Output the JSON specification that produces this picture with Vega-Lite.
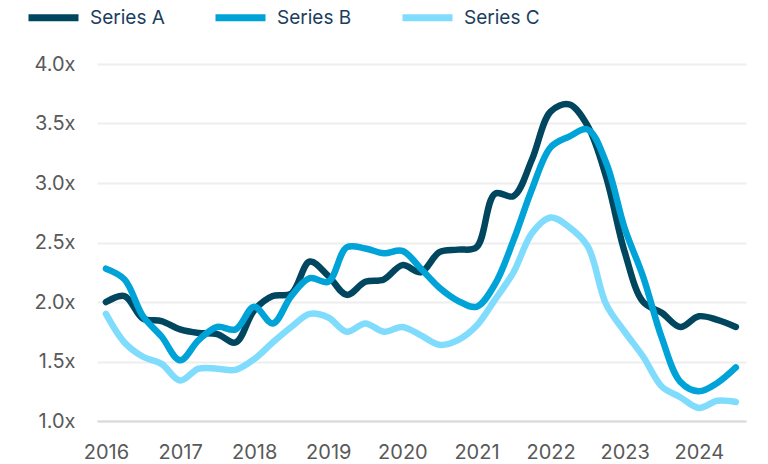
{
  "$schema": "https://vega.github.io/schema/vega-lite/v6.json",
  "width": 649,
  "height": 357,
  "autosize": {"type": "none"},
  "padding": {"left": 97, "top": 64, "right": 22, "bottom": 43},
  "background": "white",
  "config": {
    "view": {"stroke": null},
    "font": "Inter"
  },
  "data": {
    "values": [
      {"t": 2016.00, "Series A": 2.00, "Series B": 2.28, "Series C": 1.90},
      {"t": 2016.25, "Series A": 2.05, "Series B": 2.19, "Series C": 1.66},
      {"t": 2016.50, "Series A": 1.86, "Series B": 1.88, "Series C": 1.54},
      {"t": 2016.75, "Series A": 1.84, "Series B": 1.71, "Series C": 1.48},
      {"t": 2017.00, "Series A": 1.77, "Series B": 1.51, "Series C": 1.34},
      {"t": 2017.25, "Series A": 1.74, "Series B": 1.68, "Series C": 1.44},
      {"t": 2017.50, "Series A": 1.73, "Series B": 1.79, "Series C": 1.44},
      {"t": 2017.75, "Series A": 1.66, "Series B": 1.77, "Series C": 1.43},
      {"t": 2018.00, "Series A": 1.93, "Series B": 1.96, "Series C": 1.52},
      {"t": 2018.25, "Series A": 2.05, "Series B": 1.82, "Series C": 1.66},
      {"t": 2018.50, "Series A": 2.07, "Series B": 2.05, "Series C": 1.79},
      {"t": 2018.75, "Series A": 2.34, "Series B": 2.20, "Series C": 1.90},
      {"t": 2019.00, "Series A": 2.22, "Series B": 2.17, "Series C": 1.87},
      {"t": 2019.25, "Series A": 2.06, "Series B": 2.46, "Series C": 1.75},
      {"t": 2019.50, "Series A": 2.17, "Series B": 2.45, "Series C": 1.82},
      {"t": 2019.75, "Series A": 2.19, "Series B": 2.41, "Series C": 1.75},
      {"t": 2020.00, "Series A": 2.31, "Series B": 2.43, "Series C": 1.79},
      {"t": 2020.25, "Series A": 2.25, "Series B": 2.28, "Series C": 1.72},
      {"t": 2020.50, "Series A": 2.42, "Series B": 2.12, "Series C": 1.64},
      {"t": 2020.75, "Series A": 2.44, "Series B": 2.01, "Series C": 1.68},
      {"t": 2021.00, "Series A": 2.46, "Series B": 1.96, "Series C": 1.80},
      {"t": 2021.25, "Series A": 2.91, "Series B": 2.15, "Series C": 2.02},
      {"t": 2021.50, "Series A": 2.89, "Series B": 2.52, "Series C": 2.25},
      {"t": 2021.75, "Series A": 3.20, "Series B": 2.95, "Series C": 2.58},
      {"t": 2022.00, "Series A": 3.60, "Series B": 3.30, "Series C": 2.71},
      {"t": 2022.25, "Series A": 3.66, "Series B": 3.39, "Series C": 2.63},
      {"t": 2022.50, "Series A": 3.48, "Series B": 3.45, "Series C": 2.47},
      {"t": 2022.75, "Series A": 3.05, "Series B": 3.17, "Series C": 1.98},
      {"t": 2023.00, "Series A": 2.42, "Series B": 2.62, "Series C": 1.75},
      {"t": 2023.25, "Series A": 2.00, "Series B": 2.21, "Series C": 1.54},
      {"t": 2023.50, "Series A": 1.91, "Series B": 1.70, "Series C": 1.29},
      {"t": 2023.75, "Series A": 1.79, "Series B": 1.33, "Series C": 1.20},
      {"t": 2024.00, "Series A": 1.88, "Series B": 1.25, "Series C": 1.11},
      {"t": 2024.25, "Series A": 1.85, "Series B": 1.32, "Series C": 1.17},
      {"t": 2024.50, "Series A": 1.79, "Series B": 1.45, "Series C": 1.16}
    ]
  },
  "transform": [
    {"fold": ["Series A", "Series B", "Series C"], "as": ["series", "value"]}
  ],
  "mark": {"type": "line", "interpolate": "catmull-rom", "strokeWidth": 6.5, "strokeCap": "round", "strokeJoin": "round", "clip": false},
  "encoding": {
    "x": {
      "field": "t",
      "type": "quantitative",
      "scale": {"domain": [2015.879, 2024.637], "nice": false, "zero": false},
      "axis": {
        "title": null,
        "values": [2016, 2017, 2018, 2019, 2020, 2021, 2022, 2023, 2024],
        "format": "d",
        "grid": false,
        "ticks": false,
        "domain": true,
        "domainColor": "#d9d9d9",
        "domainWidth": 2,
        "labelFont": "Inter",
        "labelFontSize": 20,
        "labelColor": "#595959",
        "labelPadding": 21,
        "labelFlush": false
      }
    },
    "y": {
      "field": "value",
      "type": "quantitative",
      "scale": {"domain": [1, 4], "nice": false, "zero": false},
      "axis": {
        "title": null,
        "values": [1, 1.5, 2, 2.5, 3, 3.5, 4],
        "labelExpr": "format(datum.value, '.1f') + 'x'",
        "grid": true,
        "gridColor": "#eeeeee",
        "gridWidth": 2,
        "ticks": false,
        "domain": false,
        "labelFont": "Inter",
        "labelFontSize": 20,
        "labelColor": "#595959",
        "labelPadding": 22
      }
    },
    "color": {
      "field": "series",
      "type": "nominal",
      "scale": {
        "domain": ["Series A", "Series B", "Series C"],
        "range": ["#00465F", "#00A3D7", "#80DCFD"]
      },
      "legend": {
        "title": null,
        "orient": "none",
        "legendX": -72,
        "legendY": -75,
        "direction": "horizontal",
        "columns": 3,
        "symbolType": "stroke",
        "symbolSize": 2500,
        "symbolStrokeWidth": 7,
        "columnPadding": 36,
        "labelFont": "Inter",
        "labelFontSize": 19,
        "labelColor": "#1B3E5E",
        "labelOffset": 8
      }
    }
  }
}
